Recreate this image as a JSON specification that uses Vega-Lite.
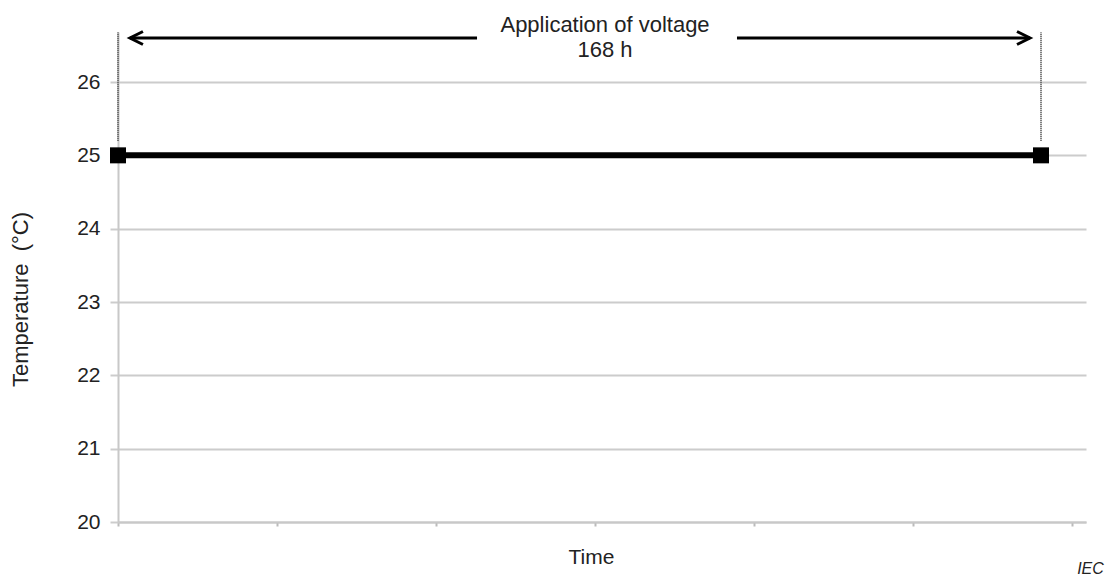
{
  "$schema": "https://vega.github.io/schema/vega-lite/v6.json",
  "width": 968,
  "height": 490,
  "autosize": {"type": "none"},
  "padding": {"left": 118, "top": 32, "right": 23, "bottom": 54},
  "background": "white",
  "config": {
    "view": {"stroke": null},
    "font": "Liberation Sans",
    "text": {"font": "Liberation Sans"}
  },
  "datasets": {
    "main": [{"t": 0, "temp": 25}, {"t": 5.805, "temp": 25}],
    "guides": [{"t": 0, "y1": 25.2, "y2": 26.68}, {"t": 5.805, "y1": 25.2, "y2": 26.68}],
    "arrows": [{"x1": 0.075, "x2": 2.258, "y": 26.6}, {"x1": 3.893, "x2": 5.736, "y": 26.6}],
    "headsL": [{"x": 0.116, "y": 26.6}],
    "headsR": [{"x": 5.695, "y": 26.6}],
    "labels": [
      {"x": 3.063, "y": 26.682, "label": "Application of voltage"},
      {"x": 3.063, "y": 26.341, "label": "168 h"}
    ],
    "iec": [{"x": 6.2, "y": 19.29, "label": "IEC"}]
  },
  "layer": [
    {
      "data": {"name": "main"},
      "mark": {"type": "line", "color": "black", "strokeWidth": 6},
      "encoding": {
        "x": {
          "field": "t", "type": "quantitative",
          "scale": {"domain": [0, 6.088], "nice": false, "zero": false},
          "axis": {
            "values": [0, 1, 2, 3, 4, 5, 6],
            "labels": false,
            "grid": false,
            "domainColor": "#c8c8c8",
            "domainWidth": 2,
            "tickColor": "#bbbbbb",
            "tickWidth": 2,
            "tickSize": 4,
            "title": "Time",
            "titleFontSize": 21,
            "titleFontWeight": "normal",
            "titleColor": "#222222",
            "titleBaseline": "alphabetic",
            "titleX": 473,
            "titleY": 41
          }
        },
        "y": {
          "field": "temp", "type": "quantitative",
          "scale": {"domain": [20, 26.682], "nice": false, "zero": false},
          "axis": {
            "values": [20, 21, 22, 23, 24, 25, 26],
            "format": "d",
            "grid": true,
            "gridColor": "#cccccc",
            "gridWidth": 2,
            "domainColor": "#c8c8c8",
            "domainWidth": 2,
            "tickColor": "#cccccc",
            "tickWidth": 2,
            "tickSize": 8,
            "labelFontSize": 21,
            "labelColor": "#222222",
            "labelPadding": 10,
            "title": "Temperature\u00a0\u00a0(°C)",
            "titleFontSize": 22,
            "titleFontWeight": "normal",
            "titleColor": "#222222",
            "titleX": -86,
            "titleY": 267
          }
        }
      }
    },
    {
      "data": {"name": "guides"},
      "mark": {"type": "rule", "color": "#555555", "strokeWidth": 2, "strokeDash": [1, 1]},
      "encoding": {
        "x": {"field": "t", "type": "quantitative"},
        "y": {"field": "y1", "type": "quantitative"},
        "y2": {"field": "y2"}
      }
    },
    {
      "data": {"name": "main"},
      "mark": {"type": "point", "shape": "square", "filled": true, "color": "black", "size": 256, "opacity": 1},
      "encoding": {
        "x": {"field": "t", "type": "quantitative"},
        "y": {"field": "temp", "type": "quantitative"}
      }
    },
    {
      "data": {"name": "arrows"},
      "mark": {"type": "rule", "color": "black", "strokeWidth": 3},
      "encoding": {
        "x": {"field": "x1", "type": "quantitative"},
        "x2": {"field": "x2"},
        "y": {"field": "y", "type": "quantitative"}
      }
    },
    {
      "data": {"name": "headsL"},
      "mark": {"type": "point", "shape": "M1,-1L-1,0L1,1", "filled": false, "stroke": "black", "strokeWidth": 3, "size": 169, "opacity": 1},
      "encoding": {
        "x": {"field": "x", "type": "quantitative"},
        "y": {"field": "y", "type": "quantitative"}
      }
    },
    {
      "data": {"name": "headsR"},
      "mark": {"type": "point", "shape": "M-1,-1L1,0L-1,1", "filled": false, "stroke": "black", "strokeWidth": 3, "size": 169, "opacity": 1},
      "encoding": {
        "x": {"field": "x", "type": "quantitative"},
        "y": {"field": "y", "type": "quantitative"}
      }
    },
    {
      "data": {"name": "labels"},
      "mark": {"type": "text", "fontSize": 22, "color": "#222222", "align": "center", "baseline": "alphabetic"},
      "encoding": {
        "x": {"field": "x", "type": "quantitative"},
        "y": {"field": "y", "type": "quantitative"},
        "text": {"field": "label"}
      }
    },
    {
      "data": {"name": "iec"},
      "mark": {"type": "text", "fontSize": 16, "fontStyle": "italic", "color": "#222222", "align": "right", "baseline": "alphabetic"},
      "encoding": {
        "x": {"field": "x", "type": "quantitative"},
        "y": {"field": "y", "type": "quantitative"},
        "text": {"field": "label"}
      }
    }
  ]
}
